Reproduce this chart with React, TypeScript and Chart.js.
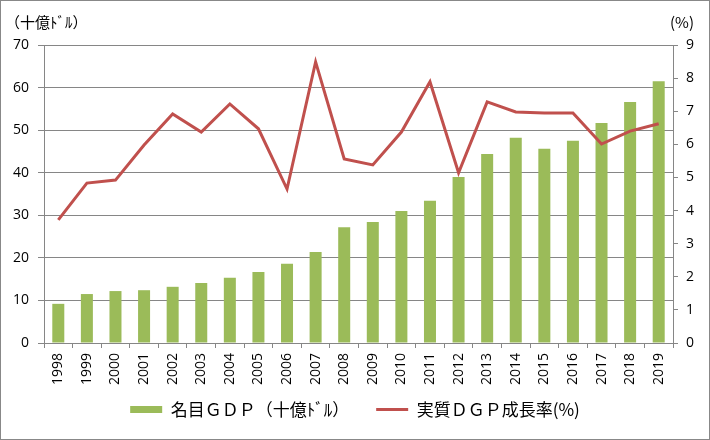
import React, { useEffect, useRef } from "react";
import { Chart, registerables } from "chart.js";

Chart.register(...registerables);

const years = ["1998", "1999", "2000", "2001", "2002", "2003", "2004", "2005", "2006", "2007", "2008", "2009", "2010", "2011", "2012", "2013", "2014", "2015", "2016", "2017", "2018", "2019"];
const nominalGdp = [9.2, 11.5, 12.2, 12.4, 13.2, 14.1, 15.3, 16.7, 18.6, 21.4, 27.2, 28.4, 31.0, 33.4, 39.0, 44.4, 48.2, 45.6, 47.5, 51.7, 56.6, 61.5];
const realGrowth = [3.72, 4.83, 4.92, 5.98, 6.92, 6.37, 7.22, 6.47, 4.65, 8.49, 5.56, 5.38, 6.37, 7.89, 5.14, 7.28, 6.98, 6.95, 6.95, 6.01, 6.4, 6.62];

const gdpLabel = "名目ＧＤＰ（十億ﾄﾞﾙ）";
const growthLabel = "実質ＤＧＰ成長率(%)";
const leftAxisTitle = "（十億ﾄﾞﾙ）";
const rightAxisTitle = "(%)";

const GREEN = "#9BBB59";
const RED = "#C0504D";
const GRID = "#868686";
const NUM_FONT = "'Open Sans', 'Liberation Sans', sans-serif";
const JP_FONT = "'Noto Sans CJK JP', sans-serif";

const axisTitlePlugin = {
  id: "axisTitles",
  afterDraw(chart: any) {
    const ctx = chart.ctx;
    ctx.save();
    ctx.font = `15px ${JP_FONT}`;
    ctx.fillStyle = "#000";
    ctx.textBaseline = "middle";
    ctx.textAlign = "left";
    ctx.fillText(leftAxisTitle, 4, 21);
    ctx.textAlign = "right";
    ctx.fillText(rightAxisTitle, 693, 21);
    ctx.restore();
  },
};

export default function App() {
  const ref = useRef<HTMLCanvasElement>(null);

  useEffect(() => {
    if (!ref.current) return;
    const chart = new Chart(ref.current, {
      type: "bar",
      data: {
        labels: years,
        datasets: [
          {
            type: "bar",
            label: gdpLabel,
            data: nominalGdp,
            backgroundColor: GREEN,
            borderWidth: 0,
            yAxisID: "y",
            barPercentage: 0.42,
            categoryPercentage: 1,
            order: 1,
          },
          {
            type: "line",
            label: growthLabel,
            data: realGrowth,
            borderColor: RED,
            backgroundColor: RED,
            borderWidth: 3,
            pointRadius: 0,
            tension: 0,
            yAxisID: "y1",
            order: 0,
          } as any,
        ],
      },
      options: {
        responsive: false,
        animation: false,
        devicePixelRatio: 1,
        layout: { padding: { top: 44, left: 0, right: 0, bottom: 11 } },
        plugins: {
          tooltip: { enabled: false },
          legend: {
            position: "bottom",
            labels: {
              usePointStyle: true,
              pointStyleWidth: 32,
              boxHeight: 7,
              padding: 27,
              color: "#000",
              font: { family: JP_FONT, size: 17 },
              generateLabels: () => [
                { text: gdpLabel, fillStyle: GREEN, strokeStyle: GREEN, lineWidth: 0, pointStyle: "rect", datasetIndex: 0, hidden: false },
                { text: growthLabel, fillStyle: RED, strokeStyle: RED, lineWidth: 3, pointStyle: "line", datasetIndex: 1, hidden: false },
              ] as any,
            },
          },
        },
        scales: {
          x: {
            offset: true,
            grid: { offset: true, drawOnChartArea: false, drawTicks: true, tickLength: 5, color: GRID },
            border: { color: GRID },
            ticks: {
              autoSkip: false,
              minRotation: 90,
              maxRotation: 90,
              padding: 5,
              color: "#000",
              font: { family: NUM_FONT, size: 14 },
            },
            afterFit: (s: any) => {
              s.height = 31;
              s._computeLabelArea = () => undefined;
            },
          },
          y: {
            position: "left",
            min: 0,
            max: 70,
            ticks: { stepSize: 10, padding: 9, color: "#000", font: { family: NUM_FONT, size: 14 } },
            grid: { color: GRID, tickLength: 6 },
            border: { color: GRID },
            afterFit: (s: any) => {
              s.width = 43;
            },
          },
          y1: {
            position: "right",
            min: 0,
            max: 9,
            ticks: { stepSize: 1, padding: 8, color: "#000", font: { family: NUM_FONT, size: 14 } },
            grid: { drawOnChartArea: false, color: GRID, tickLength: 5 },
            border: { color: GRID },
            afterFit: (s: any) => {
              s.width = 36;
            },
          },
        },
      },
      plugins: [axisTitlePlugin],
    });
    return () => chart.destroy();
  }, []);

  return (
    <div
      style={{
        position: "absolute",
        left: 0,
        top: 0,
        width: 710,
        height: 440,
        border: "1px solid #888",
        boxSizing: "border-box",
        background: "#fff",
      }}
    >
      <canvas ref={ref} width={708} height={438} style={{ display: "block", width: 708, height: 438 }} />
    </div>
  );
}
